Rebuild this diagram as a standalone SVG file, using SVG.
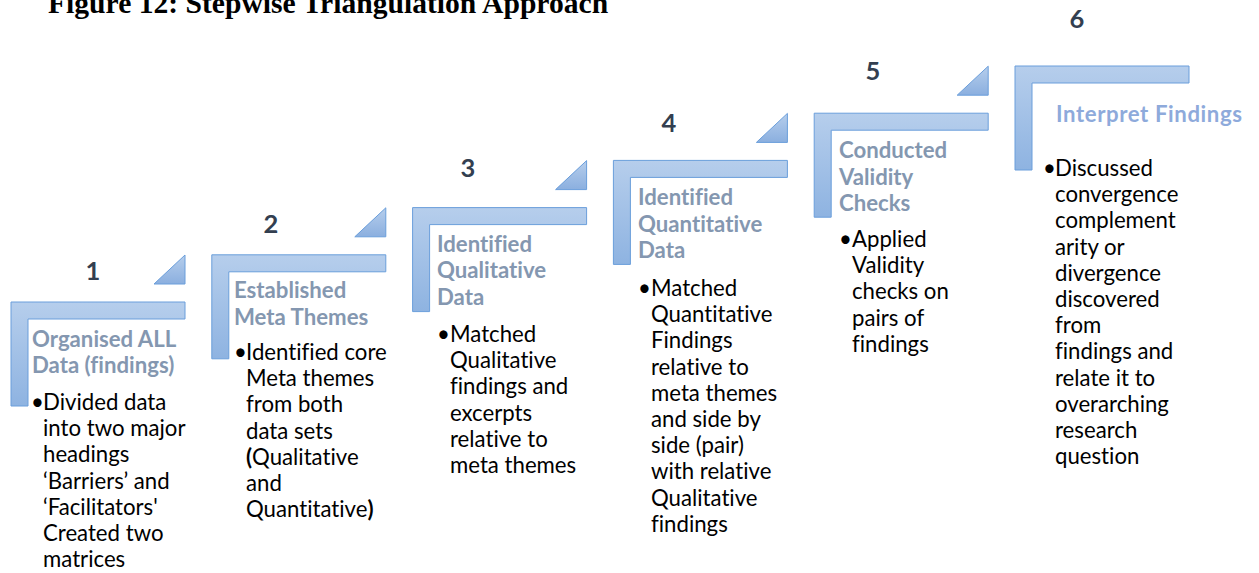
<svg xmlns="http://www.w3.org/2000/svg" xmlns:xlink="http://www.w3.org/1999/xlink" width="1259" height="573" viewBox="0 0 1259 573">
<style>
text{font-variant-ligatures:none;font-feature-settings:"liga" 0,"clig" 0}
.num{font-family:Lato,"Liberation Sans",sans-serif;font-weight:bold;font-size:25.5px;fill:#333F50;text-anchor:middle}
.head{font-family:Lato,"Liberation Sans",sans-serif;font-weight:bold;font-size:22.2px;fill:#8497B0}
.head6{fill:#8EAADB}
.body{font-family:Lato,"Liberation Sans",sans-serif;font-size:22.2px;fill:#000}
.title{font-family:"Liberation Serif","Times New Roman",serif;font-weight:bold;font-size:29.6px;fill:#000}
.shape{fill:url(#gL);stroke:#6A9EDB;stroke-width:1}
.tri{fill:url(#gT);stroke:#6A9EDB;stroke-width:1}
</style>
<defs>
<linearGradient id="gL" x1="0" y1="0" x2="0" y2="1">
<stop offset="0" stop-color="#B6CEEC"/>
<stop offset="1" stop-color="#8EB3E1"/>
</linearGradient>
<linearGradient id="gT" x1="0" y1="0" x2="0" y2="1">
<stop offset="0" stop-color="#B6CEEC"/>
<stop offset="1" stop-color="#8BAFDF"/>
</linearGradient>
<path id="L" d="M0,0 H174 V17 H17 V104 H0 Z"/>
<path id="T" d="M143,-18 H174 V-47 Z"/>
</defs>
<rect width="1259" height="573" fill="#fff"/>
<text class="title" x="48" y="13">Figure 12: Stepwise Triangulation Approach</text>

<g id="step1">
<use xlink:href="#L" href="#L" class="shape" transform="translate(11,302)"/>
<use xlink:href="#T" href="#T" class="tri" transform="translate(11,302)"/>
<text class="num" x="93" y="280">1</text>
<text class="head"><tspan x="32" y="347">Organised ALL</tspan><tspan x="32" y="373">Data (findings)</tspan></text>
<text class="body" y="410"><tspan x="31">•</tspan><tspan x="43">Divided data</tspan><tspan x="43" dy="26.2">into two major</tspan><tspan x="43" dy="26.2">headings</tspan><tspan x="43" dy="26.2">‘Barriers’ and</tspan><tspan x="43" dy="26.2">‘Facilitators'</tspan><tspan x="43" dy="26.2">Created two</tspan><tspan x="43" dy="26.2">matrices</tspan></text>
</g>

<g id="step2">
<use xlink:href="#L" href="#L" class="shape" transform="translate(211.8,254.8)"/>
<use xlink:href="#T" href="#T" class="tri" transform="translate(211.8,254.8)"/>
<text class="num" x="271" y="233">2</text>
<text class="head"><tspan x="234" y="298">Established</tspan><tspan x="234" y="325">Meta Themes</tspan></text>
<text class="body" y="360"><tspan x="234">•</tspan><tspan x="246">Identified core</tspan><tspan x="246" dy="26.2">Meta themes</tspan><tspan x="246" dy="26.2">from both</tspan><tspan x="246" dy="26.2">data sets</tspan><tspan x="246" dy="26.2"><tspan font-weight="bold">(</tspan>Qualitative</tspan><tspan x="246" dy="26.2">and</tspan><tspan x="246" dy="26.2">Quantitative<tspan font-weight="bold">)</tspan></tspan></text>
</g>

<g id="step3">
<use xlink:href="#L" href="#L" class="shape" transform="translate(412.6,207.6)"/>
<use xlink:href="#T" href="#T" class="tri" transform="translate(412.6,207.6)"/>
<text class="num" x="468" y="177">3</text>
<text class="head"><tspan x="437" y="252">Identified</tspan><tspan x="437" y="278">Qualitative</tspan><tspan x="437" y="305">Data</tspan></text>
<text class="body" y="342"><tspan x="437">•</tspan><tspan x="450">Matched</tspan><tspan x="450" dy="26.2">Qualitative</tspan><tspan x="450" dy="26.2">findings and</tspan><tspan x="450" dy="26.2">excerpts</tspan><tspan x="450" dy="26.2">relative to</tspan><tspan x="450" dy="26.2">meta themes</tspan></text>
</g>

<g id="step4">
<use xlink:href="#L" href="#L" class="shape" transform="translate(613.4,160.4)"/>
<use xlink:href="#T" href="#T" class="tri" transform="translate(613.4,160.4)"/>
<text class="num" x="669" y="132">4</text>
<text class="head"><tspan x="638" y="205">Identified</tspan><tspan x="638" y="232">Quantitative</tspan><tspan x="638" y="258">Data</tspan></text>
<text class="body" y="296"><tspan x="638">•</tspan><tspan x="651">Matched</tspan><tspan x="651" dy="26.2">Quantitative</tspan><tspan x="651" dy="26.2">Findings</tspan><tspan x="651" dy="26.2">relative to</tspan><tspan x="651" dy="26.2">meta themes</tspan><tspan x="651" dy="26.2">and side by</tspan><tspan x="651" dy="26.2">side (pair)</tspan><tspan x="651" dy="26.2">with relative</tspan><tspan x="651" dy="26.2">Qualitative</tspan><tspan x="651" dy="26.2">findings</tspan></text>
</g>

<g id="step5">
<use xlink:href="#L" href="#L" class="shape" transform="translate(814.2,113.2)"/>
<use xlink:href="#T" href="#T" class="tri" transform="translate(814.2,113.2)"/>
<text class="num" x="873" y="80">5</text>
<text class="head"><tspan x="839" y="158">Conducted</tspan><tspan x="839" y="185">Validity</tspan><tspan x="839" y="211">Checks</tspan></text>
<text class="body" y="247"><tspan x="839">•</tspan><tspan x="852">Applied</tspan><tspan x="852" dy="26.2">Validity</tspan><tspan x="852" dy="26.2">checks on</tspan><tspan x="852" dy="26.2">pairs of</tspan><tspan x="852" dy="26.2">findings</tspan></text>
</g>

<g id="step6">
<use xlink:href="#L" href="#L" class="shape" transform="translate(1015,66)"/>
<text class="num" x="1077" y="28">6</text>
<text class="head head6" x="1056" y="122" textLength="186" lengthAdjust="spacing">Interpret Findings</text>
<text class="body" y="176"><tspan x="1043">•</tspan><tspan x="1055">Discussed</tspan><tspan x="1055" dy="26.2">convergence</tspan><tspan x="1055" dy="26.2">complement</tspan><tspan x="1055" dy="26.2">arity or</tspan><tspan x="1055" dy="26.2">divergence</tspan><tspan x="1055" dy="26.2">discovered</tspan><tspan x="1055" dy="26.2">from</tspan><tspan x="1055" dy="26.2">findings and</tspan><tspan x="1055" dy="26.2">relate it to</tspan><tspan x="1055" dy="26.2">overarching</tspan><tspan x="1055" dy="26.2">research</tspan><tspan x="1055" dy="26.2">question</tspan></text>
</g>

<g id="connectors"></g>
</svg>
